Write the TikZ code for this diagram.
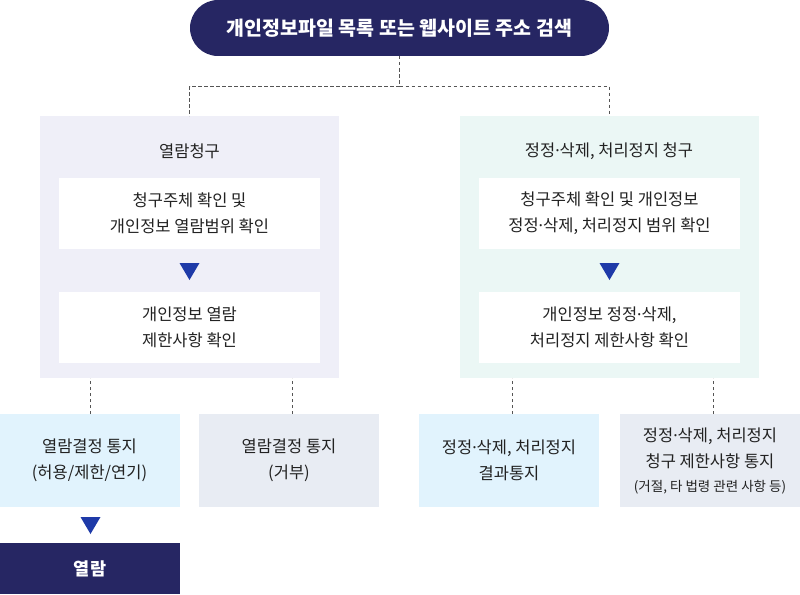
\documentclass[tikz,border=0pt]{standalone}
\usepackage{fontspec}
\setmainfont{Noto Sans CJK KR}
\newfontfamily\dotfont{Noto Sans}
\newcommand{\mdot}{{\dotfont ·}}
\usetikzlibrary{positioning,calc}
\definecolor{navy}{HTML}{262663}
\definecolor{lavbg}{HTML}{EFEFF8}
\definecolor{mintbg}{HTML}{EBF7F5}
\definecolor{skybg}{HTML}{E1F3FD}
\definecolor{greybg}{HTML}{E8ECF3}
\definecolor{triblue}{HTML}{1E3AA8}
\definecolor{txt}{HTML}{222222}
\definecolor{dashc}{HTML}{555555}
\begin{document}
\begin{tikzpicture}[x=1pt,y=-1pt,
  base/.style={inner sep=0pt,outer sep=0pt,align=center,text=txt,font=\fontsize{16.5}{26}\selectfont},
  bigbox/.style={base,minimum width=299pt,minimum height=262pt},
  whitebox/.style={base,fill=white,minimum width=261pt,minimum height=71pt},
  endbox/.style={base,minimum width=180pt,minimum height=93pt},
  dashline/.style={draw=dashc,line width=0.8pt,dash pattern=on 3.5pt off 2.5pt},
  tri/.style={fill=triblue}
]
\useasboundingbox (0,0) rectangle (800,594);
% top pill
\node[base,fill=navy,text=white,minimum width=419pt,minimum height=56pt,rounded corners=28pt,
  font=\fontsize{19.5}{22}\selectfont\bfseries] (top) at (399.5,28) {개인정보파일 목록 또는 웹사이트 주소 검색};
% big boxes
\node[bigbox,fill=lavbg] (L) at (189.5,247) {};
\node[bigbox,fill=mintbg] (R) at (609,247) {};
\node[base] (Lt) at (189.5,151) {열람청구};
\node[base] (Rt) at (609,151) {정정\mdot 삭제, 처리정지 청구};
\node[whitebox] (L1) at (189.5,213.5) {청구주체 확인 및\\개인정보 열람범위 확인};
\node[whitebox] (L2) at (189.5,327.5) {개인정보 열람\\제한사항 확인};
\node[whitebox] (R1) at (609.5,213.5) {청구주체 확인 및 개인정보\\정정\mdot 삭제, 처리정지 범위 확인};
\node[whitebox] (R2) at (609.5,327.5) {개인정보 정정\mdot 삭제,\\처리정지 제한사항 확인};
% bottom boxes
\node[endbox,fill=skybg] (D1) at (89.5,460.5) {열람결정 통지\\(허용/제한/연기)};
\node[endbox,fill=greybg] (D2) at (289,460.5) {열람결정 통지\\(거부)};
\node[endbox,fill=skybg] (D3) at (509,460.5) {정정\mdot 삭제, 처리정지\\결과통지};
\node[endbox,fill=greybg] (D4) at (710,460.5) {정정\mdot 삭제, 처리정지\\청구 제한사항 통지\\[-2pt]{\fontsize{13.5}{20}\selectfont(거절, 타 법령 관련 사항 등)}};
\node[base,fill=navy,text=white,minimum width=180pt,minimum height=51pt,
  font=\fontsize{17.5}{20}\selectfont\bfseries] (V) at (90,568.5) {열람};
% dashed connectors
\coordinate (split) at ($(top.south)+(0,30)$);
\draw[dashline] (top.south) -- (split);
\draw[dashline] (split) -| (L.north);
\draw[dashline] (split) -| (R.north);
\draw[dashline] ([xshift=1pt]D1.north) -- ([xshift=1pt]D1.north |- L.south);
\draw[dashline] ([xshift=3pt]D2.north) -- ([xshift=3pt]D2.north |- L.south);
\draw[dashline] ([xshift=3pt]D3.north) -- ([xshift=3pt]D3.north |- R.south);
\draw[dashline] ([xshift=3pt]D4.north) -- ([xshift=3pt]D4.north |- R.south);
% triangles
\fill[tri] ($(L1.south)+(-10,14)$) -- ++(20,0) -- ($(L1.south)+(0,31)$) -- cycle;
\fill[tri] ($(R1.south)+(-10,14)$) -- ++(20,0) -- ($(R1.south)+(0,31)$) -- cycle;
\fill[tri] ($(D1.south)+(-9,10)$) -- ++(20,0) -- ($(D1.south)+(1,27)$) -- cycle;
\end{tikzpicture}
\end{document}
